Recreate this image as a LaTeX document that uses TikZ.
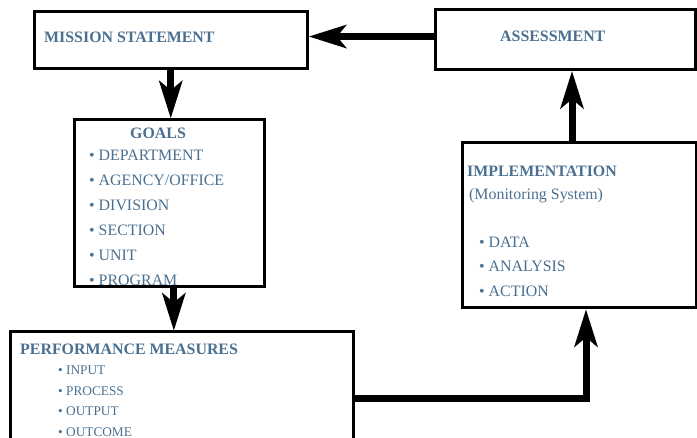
\documentclass[tikz,border=0pt]{standalone}
\usepackage{fontspec}
\setmainfont{Liberation Serif}
\usetikzlibrary{arrows.meta}
\definecolor{txtblue}{RGB}{74,112,145}
\tikzset{
  box/.style={draw=black, line width=3pt, fill=none, inner sep=0pt, outer sep=1.5pt},
  head/.style={anchor=base west, inner sep=0pt, text=txtblue, font=\fontsize{15.9}{18}\selectfont\bfseries},
  item/.style={anchor=base west, inner sep=0pt, text=txtblue, font=\fontsize{15.9}{18}\selectfont},
  smallitem/.style={anchor=base west, inner sep=0pt, text=txtblue, font=\fontsize{13.3}{15}\selectfont},
  conn/.style={draw=black, line width=7pt,
    -{Stealth[length=38pt, width=24pt, inset=10pt, line width=0pt]}}
}
\begin{document}
\begin{tikzpicture}[x=1pt, y=-1pt]
\useasboundingbox (0,0) rectangle (697,438);
\clip (0,0) rectangle (697,438);

% text lines
\node[head] (tmission) at (44,43) {MISSION STATEMENT};
\node[head] (tassess) at (500,42) {ASSESSMENT};
\node[head] (tgoals) at (130,139) {GOALS};
\node[item] (g1) at (89,161) {• DEPARTMENT};
\node[item] (g2) at (89,186) {• AGENCY/OFFICE};
\node[item] (g3) at (89,211) {• DIVISION};
\node[item] (g4) at (89,236) {• SECTION};
\node[item] (g5) at (89,261) {• UNIT};
\node[item] (g6) at (89,286) {• PROGRAM};
\node[head] (timpl) at (467,177) {IMPLEMENTATION};
\node[item] (tmon) at (469,200) {(Monitoring System)};
\node[item] (i1) at (479,248) {• DATA};
\node[item] (i2) at (479,272) {• ANALYSIS};
\node[item] (i3) at (479,297) {• ACTION};
\node[head] (tpm) at (20,355) {PERFORMANCE MEASURES};
\node[smallitem] (p1) at (58,375) {• INPUT};
\node[smallitem] (p2) at (58,395.5) {• PROCESS};
\node[smallitem] (p3) at (58,416) {• OUTPUT};
\node[smallitem] (p4) at (58,436.5) {• OUTCOME};

% boxes
\node[box, minimum width=273.5pt, minimum height=57pt] (mission) at (170.75,39.8) {};
\node[box, minimum width=260.5pt, minimum height=59.7pt] (assess) at (565.25,39.85) {};
\node[box, minimum width=190.7pt, minimum height=167pt] (goals) at (169.35,203.2) {};
\node[box, minimum width=234pt, minimum height=165.2pt] (impl) at (579,225.4) {};
\node[box, minimum width=342.3pt, minimum height=140pt] (pm) at (181.85,402) {};

% connectors
\draw[conn] ([yshift=3.3pt]assess.west) -- ([yshift=3.3pt]assess.west -| mission.east);
\draw[conn] (mission.south) -- (mission.south |- goals.north);
\draw[conn] ([xshift=4.5pt]goals.south) -- ([xshift=4.5pt]goals.south |- pm.north);
\draw[conn] ([xshift=-7pt]impl.north) -- ([xshift=-7pt]impl.north |- assess.south);
\draw[conn, line join=miter] (pm.east |- 0,398.5) -| ([xshift=7pt]impl.south);
\end{tikzpicture}
\end{document}
